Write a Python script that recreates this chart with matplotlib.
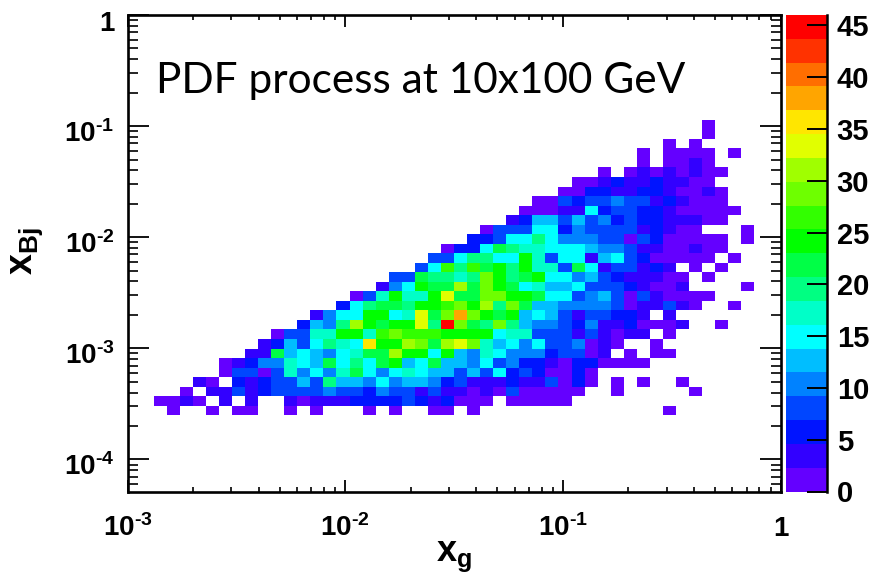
import numpy as np
import matplotlib
matplotlib.use("Agg")
import matplotlib.pyplot as plt
from matplotlib.colors import ListedColormap, BoundaryNorm
from matplotlib.ticker import LogLocator, NullFormatter
from matplotlib.transforms import ScaledTranslation

plt.rcParams['font.family'] = ['Liberation Sans', 'DejaVu Sans']
plt.rcParams['mathtext.fontset'] = 'custom'
plt.rcParams['mathtext.rm'] = 'Liberation Sans:bold'
plt.rcParams['mathtext.bf'] = 'Liberation Sans:bold'

W, H = 872, 577
n_bins = 50
log_ymin = -4.288

# estimated counts per row of the histogram, row index counted from the bottom
row_08 = [1,0,0,1,0,1,1,0,0,1,0,1,0,0,0,1,0,1,0,0,1,1,0,1,0,0,0,0,0,0,0,0,0,0,0,0,0,0,1]
row_09 = [1,1,3,1,0,3,0,3,0,0,3,1,3,3,3,6,6,6,6,8,6,3,6,1,1,1,0,1,1,1,1,1]
row_10 = [1,0,3,3,8,3,6,8,8,8,8,10,8,8,6,10,8,8,3,8,3,3,1,3,1,8,1,1,1,1,1,0,0,1,0,0,0,0,0,1]
row_11 = [3,1,0,6,3,6,8,8,13,8,19,13,13,10,15,10,13,13,10,6,8,3,3,3,6,3,3,8,1,6,1,0,1,0,1,0,0,1]
row_12 = [1,8,8,1,8,17,10,15,10,17,22,15,10,15,17,15,13,13,8,13,8,15,6,8,6,1,1,6,1]
row_13 = [1,3,6,10,10,17,15,13,22,15,19,15,22,24,13,15,22,13,13,10,15,8,10,6,6,3,1,6,6,1,1,1,1]
row_14 = [3,3,22,13,15,13,10,15,17,22,22,31,24,24,15,24,13,10,17,15,10,10,10,6,8,8,1,3,0,1,0,1,1]
row_15 = [3,6,13,8,15,19,17,15,36,24,24,31,29,22,31,33,29,17,13,15,10,15,8,8,10,1,3,1,0,0,1]
row_16 = [1,8,8,17,17,24,24,17,26,29,26,26,26,24,24,24,24,15,17,17,8,8,8,3,8,3,1,3,3,0,1]
row_17 = [6,13,10,19,31,24,22,24,24,33,19,45,29,22,19,29,19,13,10,10,8,6,10,3,3,6,1,1,1,3,0,0,1]
row_18 = [3,10,15,15,24,24,15,17,33,22,29,38,29,24,22,24,13,15,13,8,3,8,8,6,6,3,0,3]
row_19 = [6,15,19,22,22,19,24,24,26,29,24,31,19,29,22,13,13,10,10,10,10,8,1,3,3,8,3,1,0,0,1]
row_20 = [1,8,17,24,17,17,24,33,22,22,29,29,24,24,22,15,15,8,10,13,8,1,8,3,1,1,1,1]
row_21 = [3,10,15,24,22,22,31,22,29,24,22,15,17,13,13,15,8,8,8,6,3,1,1,3,0,0,0,0,1]
row_22 = [8,8,22,19,19,17,19,29,24,19,22,24,15,15,10,13,8,6,3,3,3,1,1,0,1]
row_23 = [8,15,26,19,26,22,24,19,24,17,17,8,22,15,3,8,8,3,6,3,0,1,0,1]
row_24 = [8,8,15,19,19,15,15,24,17,8,15,15,3,13,15,8,6,1,1,1,1,1,0,1]
row_25 = [1,6,6,15,22,19,17,17,15,15,15,13,10,10,8,3,3,1,1,3,1,1]
row_26 = [6,6,8,15,15,19,15,10,10,10,8,8,1,8,6,1,1,1,1,1,0,1]
row_27 = [1,8,8,8,15,15,6,10,8,8,8,8,3,6,3,1,1,0,0,0,1]
row_28 = [3,6,13,13,8,13,8,10,6,8,6,6,3,3,3,1,1]
row_29 = [1,1,1,3,3,15,6,8,8,6,6,3,1,1,1,1,1]
row_30 = [1,1,8,6,8,8,10,8,8,3,6,3,1,1,1]
row_31 = [1,1,6,6,3,3,6,6,3,1,1,3,1]
row_32 = [1,1,3,6,3,3,6,3,3,1,1]
row_33 = [1,0,1,3,1,3,1,3,1,1]
row_34 = [1,0,1,1,3,1]
row_35 = [1,0,1,1,1,1,0,1]
row_36 = [1,0,1]
row_37 = [1]
row_38 = [1]

# first filled column of each row above
first_col = [3,2,4,5,7,7,9,10,11,13,14,16,17,19,20,22,23,24,26,27,29,30,31,33,34,36,39,39,41,44,44]
all_rows = [row_08,row_09,row_10,row_11,row_12,row_13,row_14,row_15,row_16,row_17,row_18,
            row_19,row_20,row_21,row_22,row_23,row_24,row_25,row_26,row_27,row_28,row_29,
            row_30,row_31,row_32,row_33,row_34,row_35,row_36,row_37,row_38]

palette = ['#6400ff','#3200ff','#0014ff','#0046ff','#0082ff','#00beff','#00ffff','#00ffc8',
           '#00ff82','#00ff46','#00ff00','#32ff00','#6eff00','#a0ff00','#e1ff00','#ffe600',
           '#ffa500','#ff6e00','#ff3200','#ff0000']
cbar_ticks = [0,5,10,15,20,25,30,35,40,45]
level_edges = np.linspace(0, 46, 21)
x_labels = [r'$\mathrm{10^{\text{-3}}}$', r'$\mathrm{10^{\text{-2}}}$', r'$\mathrm{10^{\text{-1}}}$', '1']
y_labels = [r'$\mathrm{10^{\text{-4}}}$', r'$\mathrm{10^{\text{-3}}}$', r'$\mathrm{10^{\text{-2}}}$',
            r'$\mathrm{10^{\text{-1}}}$', '1']

grid = np.zeros((n_bins, n_bins))
for i, row in enumerate(all_rows):
    grid[8+i, first_col[i]:first_col[i]+len(row)] = row
grid = np.ma.masked_where(grid == 0, grid)

x_edges = np.logspace(-3, 0, n_bins+1)
y_edges = np.logspace(log_ymin, 0, n_bins+1)

cmap = ListedColormap(palette)
norm = BoundaryNorm(level_edges, cmap.N)


def rect(l, t, r, b):
    return [l/W, 1-b/H, (r-l)/W, (b-t)/H]


fig = plt.figure(figsize=(W/100, H/100), dpi=100)
ax = fig.add_axes(rect(127.5, 15, 780.5, 491.5))
cax = fig.add_axes(rect(786, 15, 827, 491.5))

mesh = ax.pcolormesh(x_edges, y_edges, grid, cmap=cmap, norm=norm)
ax.set_xscale('log')
ax.set_yscale('log')
ax.set_xlim(1e-3, 1)
ax.set_ylim(10**log_ymin, 1)

for s in ax.spines.values():
    s.set_linewidth(1.9)

ax.xaxis.set_minor_locator(LogLocator(base=10, subs=np.arange(2, 10), numticks=5))
ax.yaxis.set_minor_locator(LogLocator(base=10, subs=np.arange(2, 10), numticks=7))
ax.xaxis.set_minor_formatter(NullFormatter())
ax.yaxis.set_minor_formatter(NullFormatter())
ax.set_xticks([1e-3, 1e-2, 1e-1, 1])
ax.set_xticklabels(x_labels, fontsize=20, fontweight='bold')
ax.set_yticks([1e-4, 1e-3, 1e-2, 1e-1, 1])
ax.set_yticklabels(y_labels, fontsize=20, fontweight='bold')
ax.tick_params(axis='both', which='major', direction='in', top=True, right=True, width=1.3)
ax.tick_params(axis='both', which='minor', direction='in', top=True, right=True, width=1.2)
ax.tick_params(axis='x', which='major', length=8.6, pad=32)
ax.tick_params(axis='x', which='minor', length=3.6)
ax.tick_params(axis='y', which='major', length=15, pad=9.4)
ax.tick_params(axis='y', which='minor', length=7)

# labels sit on a common baseline, like in the original
for lab in ax.get_xticklabels():
    lab.set_verticalalignment('baseline')
for lab in ax.get_yticklabels():
    lab.set_verticalalignment('baseline')
    lab.set_transform(lab.get_transform() + ScaledTranslation(0, -16/100, fig.dpi_scale_trans))

fig.text(156/W, 1-93/H, 'PDF process at 10x100 GeV', family='Lato', fontsize=30.5, va='baseline', ha='left')
fig.text(454/W, 1-557/H, r'$\mathrm{x_g}$', fontsize=26, ha='center', va='center')
fig.text(27/W, 1-251/H, r'$\mathrm{x_{Bj}}$', fontsize=27, ha='center', va='center', rotation=90)

cb = fig.colorbar(mesh, cax=cax, ticks=cbar_ticks, spacing='proportional', drawedges=False)
cb.outline.set_visible(False)
cax.minorticks_off()
cax.axvline(1, color='black', lw=1.8, clip_on=False)
cax.tick_params(axis='y', direction='in', length=14.4, width=1.4, pad=7, labelsize=21, right=True)
cax.set_yticks(cbar_ticks)
cax.set_yticklabels([str(t) for t in cbar_ticks], fontweight='bold')

fig.savefig('out.png', dpi=100)
